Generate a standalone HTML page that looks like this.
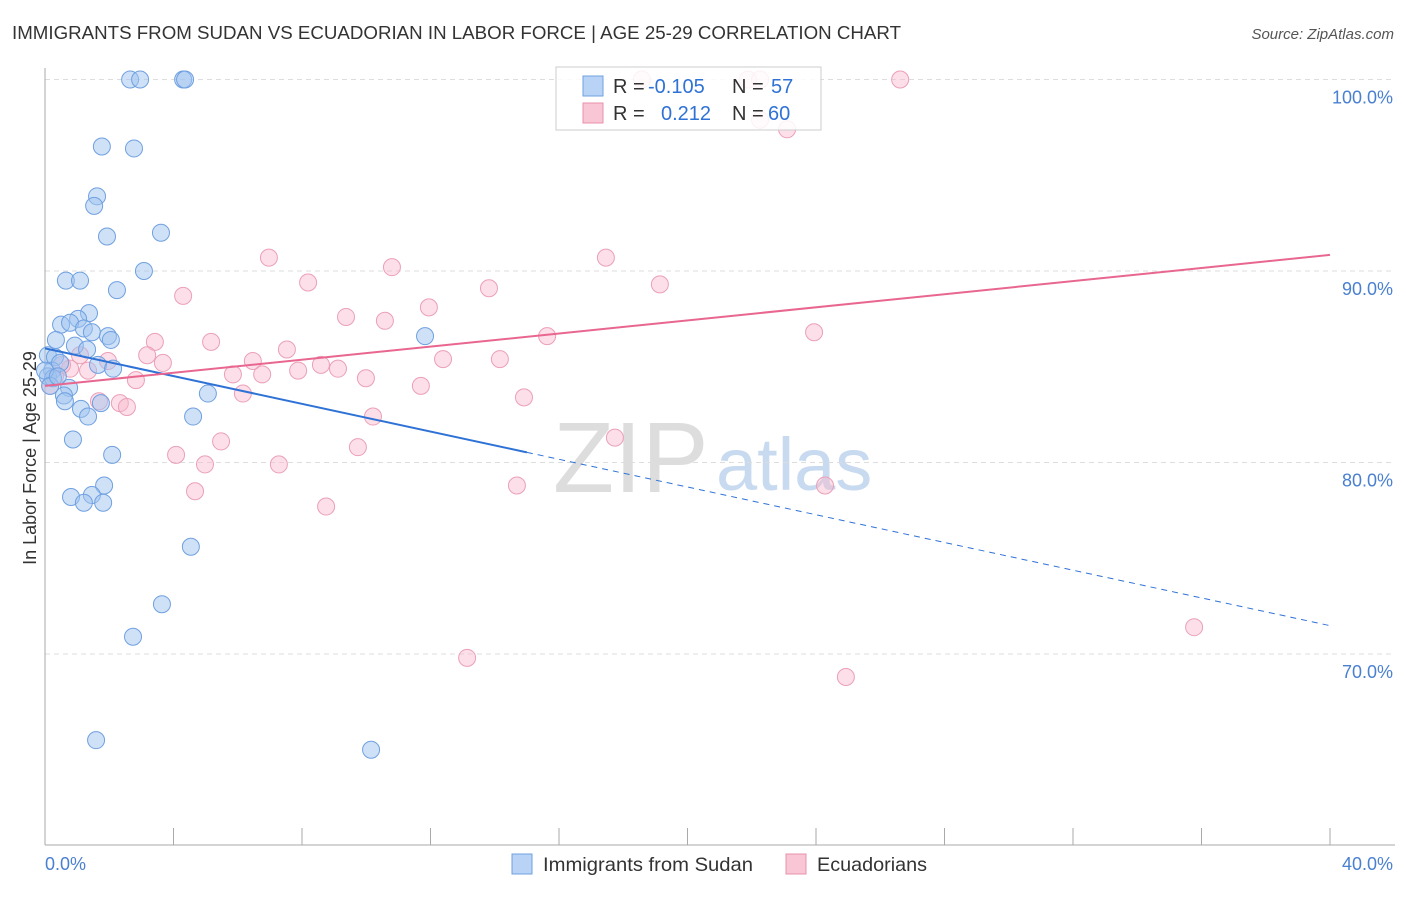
<!DOCTYPE html>
<html><head><meta charset="utf-8">
<style>
body{margin:0;background:#fff;font-family:"Liberation Sans",sans-serif;}
svg text{font-family:"Liberation Sans",sans-serif;}
</style></head>
<body>
<svg id="chart" width="1406" height="892">
<text x="12" y="39" font-size="18" fill="#333" textLength="889" lengthAdjust="spacingAndGlyphs">IMMIGRANTS FROM SUDAN VS ECUADORIAN IN LABOR FORCE | AGE 25-29 CORRELATION CHART</text>
<text x="1394" y="39" font-size="15" fill="#555" font-style="italic" text-anchor="end">Source: ZipAtlas.com</text>
<text x="36" y="458" font-size="18" fill="#333" text-anchor="middle" transform="rotate(-90 36 458)">In Labor Force | Age 25-29</text>
<text x="553" y="492" font-size="100" fill="#ddd" font-family="Liberation Serif">ZIP</text>
<text x="716" y="490" font-size="74" fill="#c8daf0">atlas</text>
<g id="grid"></g>
<g id="pts"></g>
<g id="trend"></g>
<g id="legend">
<rect x="556" y="67" width="265" height="63" fill="#fff" fill-opacity="0.85" stroke="#ccc"/>
<rect x="583" y="76" width="20" height="20" fill="#b8d3f5" stroke="#6fa0e0"/>
<rect x="583" y="103" width="20" height="20" fill="#f9c6d6" stroke="#e890aa"/>
<text x="613" y="93" font-size="20" fill="#333">R = </text><text x="648" y="93" font-size="20" fill="#2f72d6">-0.105</text>
<text x="732" y="93" font-size="20" fill="#333">N = </text><text x="771" y="93" font-size="20" fill="#2f72d6">57</text>
<text x="613" y="120" font-size="20" fill="#333">R = </text><text x="661" y="120" font-size="20" fill="#2f72d6">0.212</text>
<text x="732" y="120" font-size="20" fill="#333">N = </text><text x="768" y="120" font-size="20" fill="#2f72d6">60</text>
</g>
<g>
<rect x="512" y="854" width="20" height="20" fill="#b8d3f5" stroke="#6fa0e0"/>
<text x="543" y="871" font-size="19.5" fill="#333" textLength="210" lengthAdjust="spacingAndGlyphs">Immigrants from Sudan</text>
<rect x="786" y="854" width="20" height="20" fill="#f9c6d6" stroke="#e890aa"/>
<text x="817" y="871" font-size="19.5" fill="#333" textLength="110" lengthAdjust="spacingAndGlyphs">Ecuadorians</text>
</g>
</svg>
<script>
const xTicks=[0,4,8,12,16,20,24,28,32,36,40];
const yTicks=[70,80,90,100];
const yTickLabels=["70.0%","80.0%","90.0%","100.0%"];
const xEndLabels=["0.0%","40.0%"];
const sudanX=[2.65,2.96,4.30,4.36,1.77,2.77,1.62,1.53,1.93,3.61,0.65,1.09,3.08,2.24,1.37,1.03,0.50,0.78,1.21,1.46,1.96,2.05,0.34,0.93,0.09,0.31,0.22,0.47,1.65,2.12,0.09,0.25,0.75,0.59,0.62,1.12,1.34,1.74,5.07,4.61,0.87,2.09,1.84,0.81,1.46,1.21,1.81,4.54,3.64,2.74,1.59,10.15,11.83,1.31,0,0.16,0.40];
const sudanY=[100,100,100,100,96.5,96.4,93.9,93.4,91.8,92.0,89.5,89.5,90.0,89.0,87.8,87.5,87.2,87.3,87.0,86.8,86.6,86.4,86.4,86.1,85.6,85.5,84.8,85.2,85.1,84.9,84.5,84.4,83.9,83.5,83.2,82.8,82.4,83.1,83.6,82.4,81.2,80.4,78.8,78.2,78.3,77.9,77.9,75.6,72.6,70.9,65.5,65.0,86.6,85.9,84.8,84.0,84.5];
const ecuX=[18.58,21.88,22.26,26.62,22.26,23.10,6.97,10.80,17.46,8.19,19.14,13.82,4.30,11.95,9.37,10.58,23.94,15.63,3.42,5.17,7.53,3.18,12.39,3.67,6.47,14.16,8.59,9.12,5.85,6.76,7.88,9.99,11.70,2.83,6.16,14.91,1.68,2.33,2.55,10.21,5.48,17.74,9.74,4.08,4.98,7.28,4.67,14.69,24.28,8.75,35.77,13.14,24.93,1.96,0.78,1.34,0.31,0.16,0.53,1.09];
const ecuY=[100,100,100,100,97.9,97.4,90.7,90.2,90.7,89.4,89.3,89.1,88.7,88.1,87.6,87.4,86.8,86.6,86.3,86.3,85.9,85.6,85.4,85.2,85.3,85.4,85.1,84.9,84.6,84.6,84.8,84.4,84.0,84.3,83.6,83.4,83.2,83.1,82.9,82.4,81.1,81.3,80.8,80.4,79.9,79.9,78.5,78.8,78.8,77.7,71.4,69.8,68.8,85.3,84.9,84.8,84.5,84.0,85.1,85.6];
const sudanTrend=[85.96,-0.362];
const ecuTrend=[84.0,0.171];
const NS="http://www.w3.org/2000/svg";
const X=v=>45+v/40*1285;
const Y=v=>79.5+(100-v)*19.15;
function mk(tag,attrs,parent){const e=document.createElementNS(NS,tag);for(const k in attrs)e.setAttribute(k,attrs[k]);document.getElementById(parent).appendChild(e);return e;}
yTicks.forEach((t,i)=>{
  const g=mk('line',{x1:45,x2:1395,y1:Y(t),y2:Y(t),stroke:'#ddd','stroke-dasharray':'5,4'},'grid');
  
  
  const l=mk('text',{x:1393,y:Y(t)+24,'font-size':18,fill:'#4a80d0','text-anchor':'end'},'grid');
  l.textContent=yTickLabels[i];
  
  
});
const ax=mk('line',{x1:45,x2:45,y1:68,y2:845,stroke:'#aaa'},'grid');


const bx=mk('line',{x1:45,x2:1395,y1:845,y2:845,stroke:'#aaa'},'grid');


xTicks.forEach(t=>{
  const k=mk('line',{x1:X(t),x2:X(t),y1:828,y2:845,stroke:'#aaa'},'grid');
  
  
});
[[0,'start'],[40,'end']].forEach((p,i)=>{
  const l=mk('text',{x:i?1393:45,y:870,'font-size':18,fill:'#4a80d0','text-anchor':p[1]},'grid');
  l.textContent=xEndLabels[i];
  
  
});
ecuX.forEach((v,i)=>{
  const c=mk('circle',{cx:X(v),cy:Y(ecuY[i]),r:8.5,fill:'rgba(248,184,204,0.45)',stroke:'#eba0b8','stroke-width':1},'pts');
  
  
});
sudanX.forEach((v,i)=>{
  const c=mk('circle',{cx:X(v),cy:Y(sudanY[i]),r:8.5,fill:'rgba(160,196,240,0.5)',stroke:'#6fa0e0','stroke-width':1},'pts');
  
  
});
const s1=mk('line',{x1:X(0),y1:Y(sudanTrend[0]),x2:X(15),y2:Y(sudanTrend[0]+15*sudanTrend[1]),stroke:'#2f72d6','stroke-width':2},'trend');


const s2=mk('line',{x1:X(15),y1:Y(sudanTrend[0]+15*sudanTrend[1]),x2:X(40),y2:Y(sudanTrend[0]+40*sudanTrend[1]),stroke:'#2f72d6','stroke-width':1,'stroke-dasharray':'6,5'},'trend');


const e1=mk('line',{x1:X(0),y1:Y(ecuTrend[0]),x2:X(40),y2:Y(ecuTrend[0]+40*ecuTrend[1]),stroke:'#e8668f','stroke-width':2},'trend');


</script>
</body></html>
